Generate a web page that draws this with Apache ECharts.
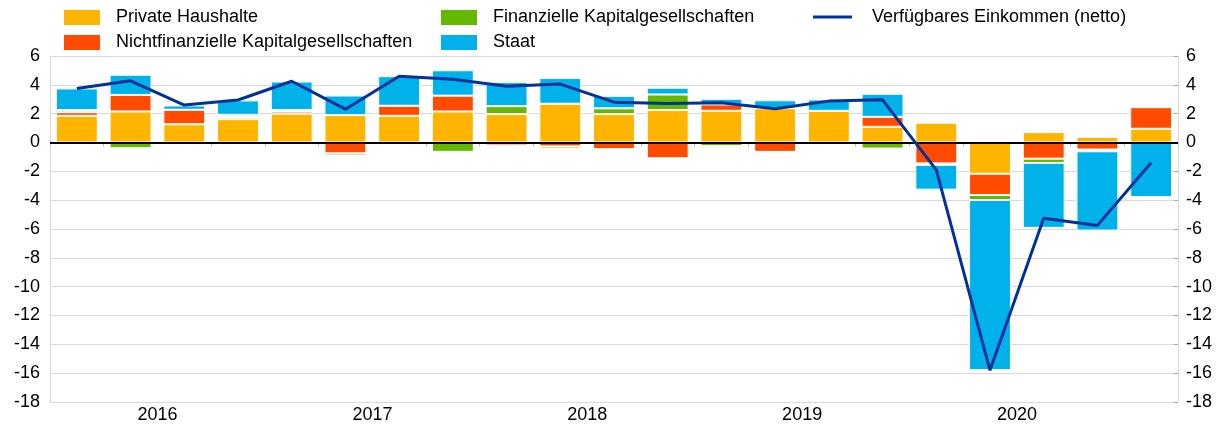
<!DOCTYPE html>
<html>
<head>
<meta charset="utf-8">
<script src="https://cdn.jsdelivr.net/npm/echarts@6/dist/echarts.min.js"></script>
<style>
html,body{margin:0;padding:0;background:#fff;}
#chart{width:1226px;height:428px;}
</style>
</head>
<body>
<div id="chart"></div>
<script>
var categories = ['2016Q1','2016Q2','2016Q3','2016Q4','2017Q1','2017Q2','2017Q3','2017Q4',
  '2018Q1','2018Q2','2018Q3','2018Q4','2019Q1','2019Q2','2019Q3','2019Q4',
  '2020Q1','2020Q2','2020Q3','2020Q4','2021Q1'];
var privateHaushalte = [1.85, 2.15, 1.27, 1.62, 2.0, 1.9, 1.85, 2.15, 1.97, 2.69, 1.97, 2.25, 2.2, 2.38, 2.2, 1.09, 1.37, -2.17, 0.72, 0.39, 0.95];
var nichtfinanzielle = [0.25, 1.15, 1.0, 0.15, 0.15, -0.75, 0.7, 1.1, -0.2, -0.27, -0.46, -1.09, 0.44, -0.65, 0, 0.69, -1.45, -1.47, -1.12, -0.49, 1.5];
var finanzielle = [0.15, -0.4, 0, 0.15, 0.1, -0.15, 0, -0.65, 0.55, -0.15, 0.4, 1.08, -0.25, 0, -0.07, -0.42, -0.1, -0.35, -0.3, -0.12, 0];
var staat = [1.5, 1.4, 0.3, 1.0, 1.98, 1.36, 2.05, 1.76, 1.67, 1.78, 0.86, 0.47, 0.39, 0.55, 0.79, 1.6, -1.72, -11.8, -4.5, -5.5, -3.78];
var einkommen = [3.75, 4.28, 2.6, 2.95, 4.25, 2.31, 4.6, 4.38, 3.9, 4.05, 2.8, 2.7, 2.75, 2.34, 2.87, 2.96, -1.9, -15.8, -5.26, -5.75, -1.4];
var yTicks = {min: -18, max: 6, interval: 2};

var FONT = "'Liberation Sans', Arial, sans-serif";
var chart = echarts.init(document.getElementById('chart'));

function barSeries(name, data, color) {
  return {
    name: name, type: 'bar', stack: 'total', data: data,
    barCategoryGap: '22%',
    itemStyle: {color: color, borderColor: '#ffffff', borderWidth: 1},
    emphasis: {disabled: true}
  };
}
var hiddenTicks = [2, 6, 10, 14, 18];

var option = {
  animation: false,
  textStyle: {fontFamily: FONT},
  legend: [
    {left: 62, top: 8, padding: 0, orient: 'vertical', icon: 'rect', itemWidth: 38, itemHeight: 17, itemGap: 6,
     textStyle: {fontSize: 18, color: '#000', fontFamily: FONT, padding: [0,0,0,10]},
     data: ['Private Haushalte', 'Nichtfinanzielle Kapitalgesellschaften']},
    {left: 439, top: 8, padding: 0, orient: 'vertical', icon: 'rect', itemWidth: 38, itemHeight: 17, itemGap: 6,
     textStyle: {fontSize: 18, color: '#000', fontFamily: FONT, padding: [0,0,0,10]},
     data: ['Finanzielle Kapitalgesellschaften', 'Staat']},
    {left: 813, top: 8, padding: 0, icon: 'rect', itemWidth: 39, itemHeight: 3,
     textStyle: {fontSize: 18, color: '#000', fontFamily: FONT, padding: [0,0,0,15]},
     data: ['Verfügbares Einkommen (netto)']}
  ],
  grid: {left: 50, right: 48, top: 56, bottom: 26, containLabel: false},
  xAxis: {
    type: 'category', data: categories, boundaryGap: true,
    axisLine: {show: true, lineStyle: {color: '#d9d9d9', width: 1}},
    axisTick: {show: true, length: 4, lineStyle: {color: '#bfbfbf'},
      interval: function (i) { return hiddenTicks.indexOf(i) < 0; }},
    axisLabel: {
      interval: 0, margin: 4, fontSize: 18, color: '#000', fontFamily: FONT,
      padding: [0, 0, 0, 54],
      formatter: function (v) { return v.slice(4) === 'Q2' ? v.slice(0, 4) : ''; }
    },
    splitLine: {show: false}
  },
  yAxis: [
    {type: 'value', min: yTicks.min, max: yTicks.max, interval: yTicks.interval,
     axisLine: {show: true, lineStyle: {color: '#d9d9d9'}},
     axisTick: {show: false},
     axisLabel: {fontSize: 18, color: '#000', margin: 10, fontFamily: FONT},
     splitLine: {show: true, lineStyle: {color: '#d9d9d9', width: 1}}},
    {type: 'value', position: 'right', min: yTicks.min, max: yTicks.max, interval: yTicks.interval,
     axisLine: {show: true, lineStyle: {color: '#d9d9d9'}},
     axisTick: {show: true, inside: true, length: 4, lineStyle: {color: '#a6a6a6'}},
     axisLabel: {fontSize: 18, color: '#000', margin: 8, fontFamily: FONT},
     splitLine: {show: false}}
  ],
  series: [
    barSeries('Private Haushalte', privateHaushalte, '#FFB400'),
    barSeries('Nichtfinanzielle Kapitalgesellschaften', nichtfinanzielle, '#FF4B00'),
    barSeries('Finanzielle Kapitalgesellschaften', finanzielle, '#65B800'),
    barSeries('Staat', staat, '#00B1EA'),
    {
      name: 'Verfügbares Einkommen (netto)', type: 'line', data: einkommen,
      symbol: 'none', z: 5,
      lineStyle: {color: '#003299', width: 3},
      itemStyle: {color: '#003299'},
      emphasis: {disabled: true},
      markLine: {
        silent: true, symbol: 'none', label: {show: false},
        lineStyle: {color: '#000', width: 2, type: 'solid'},
        data: [{yAxis: 0}]
      }
    }
  ]
};
chart.setOption(option);
</script>
</body>
</html>
